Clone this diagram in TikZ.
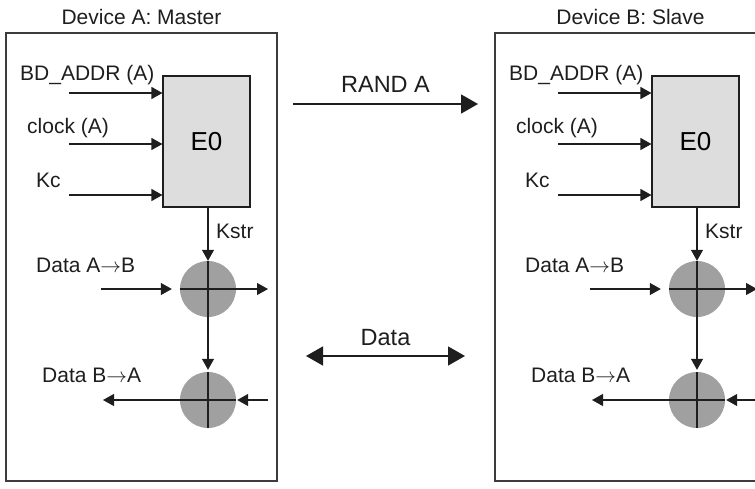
\documentclass[tikz,border=0pt]{standalone}
\usepackage{fontspec}
\setmainfont{Liberation Sans}
\usetikzlibrary{arrows.meta, positioning}
\definecolor{framegray}{RGB}{60,60,60}
\definecolor{encfill}{RGB}{221,221,221}
\definecolor{xorfill}{RGB}{160,160,160}
\definecolor{inkblack}{RGB}{30,30,30}
\tikzset{
    devbox/.style={rectangle, draw=framegray, line width=1.1pt, minimum width=271pt, minimum height=448pt, inner sep=0pt},
    devtitle/.style={font=\fontsize{21}{25}\selectfont, text=inkblack, inner sep=0pt},
    encbox/.style={rectangle, draw=inkblack, fill=encfill, line width=1.1pt, minimum width=87pt, minimum height=131pt, font=\fontsize{26}{30}\selectfont},
    xorbox/.style={circle, fill=xorfill, minimum size=56pt, inner sep=0pt},
    crossline/.style={line width=1.2pt, inkblack},
    sigarrow/.style={-{Triangle[length=11pt, width=12pt]}, line width=1.2pt, inkblack},
    siglabel/.style={font=\fontsize{21}{25}\selectfont, text=inkblack, anchor=base west, inner sep=0pt},
    linkarrow/.style={-{Triangle[length=17pt, width=19pt]}, line width=1.4pt, inkblack},
    duplexarrow/.style={{Triangle[length=17pt, width=19pt]}-{Triangle[length=17pt, width=19pt]}, line width=1.4pt, inkblack},
    linklabel/.style={font=\fontsize{23.5}{28}\selectfont, text=inkblack, inner sep=0pt}
}

\begin{document}
\begin{tikzpicture}[x=1pt, y=-1pt]

\clip (0,0) rectangle (755,488);

% Device A
\node[devbox] (devA) at (141.5,257) {};
\node[devtitle, above=8pt of devA.north] (titleA) {Device A: Master};
\node[encbox] (e0A) at (206.5,141.5) {E0};
\node[xorbox] (xA1) at (208,289) {};
\node[xorbox] (xA2) at (208,400) {};

\coordinate (inA1) at (69,93);
\coordinate (inA2) at (69,144);
\coordinate (inA3) at (69,195);
\node[siglabel] (addrA) at (20,80) {BD\_ADDR (A)};
\node[siglabel] (clkA) at (27,133) {clock (A)};
\node[siglabel] (kcA) at (36,187) {Kc};
\draw[sigarrow] (inA1) -- (inA1 -| e0A.west);
\draw[sigarrow] (inA2) -- (inA2 -| e0A.west);
\draw[sigarrow] (inA3) -- (inA3 -| e0A.west);

\draw[sigarrow] (e0A.south -| xA1.north) -- (xA1.north);
\node[siglabel] (kstrA) at (216,238) {Kstr};
\draw[crossline] (xA1.west) -- (xA1.east) (xA1.north) -- (xA1.south);
\draw[crossline] (xA2.west) -- (xA2.east) (xA2.north) -- (xA2.south);
\draw[sigarrow, shorten >=2pt] (xA1.south) -- (xA2.north);

\coordinate (txA) at (101,289);
\coordinate (outA) at (268,289);
\coordinate (rxA) at (103,400);
\coordinate (backA) at (268,400);
\node[siglabel] (abA) at (36,272) {Data A$\rightarrow$B};
\node[siglabel] (baA) at (42,382) {Data B$\rightarrow$A};
\draw[sigarrow, shorten >=8pt] (txA) -- (xA1.west);
\draw[sigarrow] (xA1.east) -- (outA);
\draw[sigarrow] (xA2.west) -- (rxA);
\draw[sigarrow, shorten >=1pt] (backA) -- (xA2.east);

% Device B
\node[devbox] (devB) at (630.5,257) {};
\node[devtitle, above=8pt of devB.north] (titleB) {Device B: Slave};
\node[encbox] (e0B) at (695.5,141.5) {E0};
\node[xorbox] (xB1) at (697,289) {};
\node[xorbox] (xB2) at (697,400) {};

\coordinate (inB1) at (558,93);
\coordinate (inB2) at (558,144);
\coordinate (inB3) at (558,195);
\node[siglabel] (addrB) at (509,80) {BD\_ADDR (A)};
\node[siglabel] (clkB) at (516,133) {clock (A)};
\node[siglabel] (kcB) at (525,187) {Kc};
\draw[sigarrow] (inB1) -- (inB1 -| e0B.west);
\draw[sigarrow] (inB2) -- (inB2 -| e0B.west);
\draw[sigarrow] (inB3) -- (inB3 -| e0B.west);

\draw[sigarrow] (e0B.south -| xB1.north) -- (xB1.north);
\node[siglabel] (kstrB) at (705,238) {Kstr};
\draw[crossline] (xB1.west) -- (xB1.east) (xB1.north) -- (xB1.south);
\draw[crossline] (xB2.west) -- (xB2.east) (xB2.north) -- (xB2.south);
\draw[sigarrow, shorten >=2pt] (xB1.south) -- (xB2.north);

\coordinate (txB) at (590,289);
\coordinate (outB) at (757,289);
\coordinate (rxB) at (592,400);
\coordinate (backB) at (757,400);
\node[siglabel] (abB) at (525,272) {Data A$\rightarrow$B};
\node[siglabel] (baB) at (531,382) {Data B$\rightarrow$A};
\draw[sigarrow, shorten >=8pt] (txB) -- (xB1.west);
\draw[sigarrow] (xB1.east) -- (outB);
\draw[sigarrow] (xB2.west) -- (rxB);
\draw[sigarrow, shorten >=1pt] (backB) -- (xB2.east);

% link between devices
\coordinate (randL) at (293,104);
\coordinate (randR) at (478,104);
\coordinate (dataL) at (306,356);
\coordinate (dataR) at (465,356);
\draw[linkarrow] (randL) -- node[linklabel, midway, above=11pt] (randlbl) {RAND A} (randR);
\draw[duplexarrow] (dataL) -- node[linklabel, midway, above=10pt] (datalbl) {Data} (dataR);

\end{tikzpicture}
\end{document}
